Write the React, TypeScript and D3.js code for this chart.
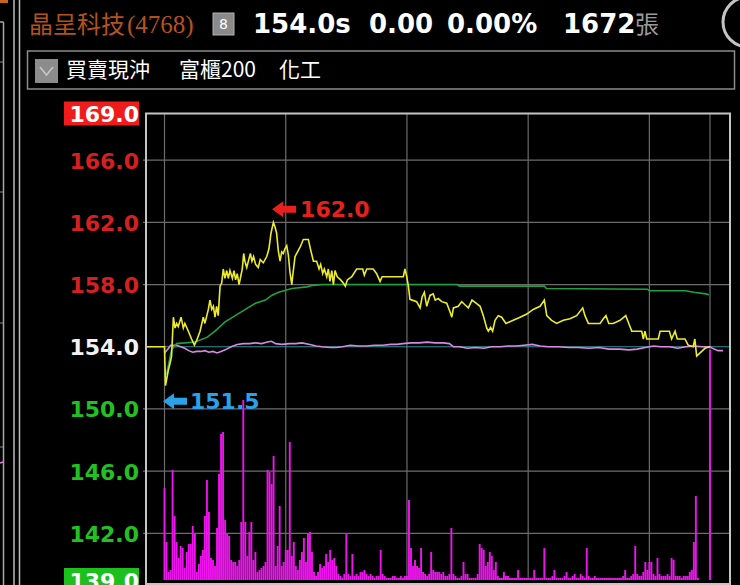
import React from "react";
import * as d3 from "d3";

const W = 740;
const H = 585;

const stockName = "晶呈科技";
const stockCode = "(4768)";
const badge = "8";
const quoteParts = ["154.0s", "0.00", "0.00%", "1672"];
const quoteUnit = "張";
const legendItems = ["買賣現沖", "富櫃200", "化工"];

const priceTicks = [169, 166, 162, 158, 154, 150, 146, 142, 139];
const refPrice = 154;
const timeGrid = [0, 60, 120, 180, 240, 270];
const highMark = { m: 54, p: 162.0, label: "162.0" };
const lowMark = { m: 0.5, p: 151.5, label: "151.5" };

// [minute since 09:00, price]
const pricePts: [number, number][] = [
  [-9.1, 154.0], [0, 154.0], [0.5, 151.5], [1.9, 152.5], [2.7, 152.9], [3.5, 153.4], [4.4, 155.9],
  [5.2, 155.2], [6.0, 155.5], [6.8, 155.3], [8.2, 155.9], [9.3, 155.2], [10.1, 155.5], [11.8, 155.0],
  [13.4, 154.5], [14.8, 154.1], [15.9, 154.4], [17.6, 155.0], [19.2, 155.9], [20.0, 155.5],
  [21.7, 156.4], [22.5, 157.0], [23.4, 156.4], [24.2, 156.6], [25.0, 155.9], [25.8, 156.6],
  [26.6, 156.0], [27.5, 157.9], [28.3, 158.1], [29.1, 159.0], [29.9, 158.4], [30.8, 158.9],
  [31.6, 158.4], [32.4, 158.9], [33.6, 158.4], [34.4, 158.9], [35.2, 158.3], [36.0, 158.7],
  [36.9, 158.0], [37.7, 158.5], [38.5, 159.0], [39.2, 160.0], [39.8, 159.5], [40.7, 159.1],
  [41.5, 159.5], [42.5, 160.0], [43.3, 159.5], [44.1, 159.8], [45.1, 159.3], [46.4, 159.1],
  [47.4, 159.6], [48.9, 159.4], [50.6, 159.8], [51.7, 160.3], [52.7, 161.3], [53.9, 162.0],
  [54.7, 161.7], [55.5, 161.3], [56.3, 160.2], [57.2, 159.5], [58.0, 160.1], [58.8, 160.0],
  [59.6, 160.3], [60.5, 160.5], [61.3, 159.9], [62.1, 158.8], [63.0, 158.0], [63.4, 158.5],
  [64.6, 159.8], [67.1, 160.4], [68.7, 160.9], [71.2, 160.9], [72.4, 160.2], [73.7, 159.5],
  [75.3, 159.5], [76.5, 159.0], [77.3, 159.3], [78.3, 158.7], [79.1, 159.0], [80.3, 158.5],
  [81.1, 159.0], [81.9, 158.2], [82.8, 158.9], [83.6, 158.0], [84.4, 158.9], [85.5, 158.5],
  [87.2, 158.3], [88.5, 158.1], [89.5, 157.9], [90.5, 158.3], [92.7, 158.5], [95.1, 159.0],
  [98.1, 159.0], [98.9, 158.6], [100.1, 159.0], [103.3, 159.0], [105.0, 158.7], [106.7, 158.2],
  [107.7, 158.5], [118.2, 158.5], [119.0, 159.0], [119.9, 158.5], [120.7, 157.9], [121.5, 157.05],
  [124.8, 156.9], [126.5, 156.5], [127.5, 157.2], [128.6, 157.5], [129.8, 156.6], [131.4, 157.3],
  [133.0, 157.4], [134.0, 157.0], [135.5, 157.1], [137.2, 156.9], [139.7, 156.8], [141.3, 156.25],
  [142.2, 155.9], [143.0, 156.5], [145.4, 156.6], [147.1, 156.9], [148.7, 156.7], [150.4, 156.5],
  [152.2, 157.0], [154.2, 156.8], [156.2, 156.6], [157.8, 156.0], [159.5, 155.2], [160.3, 155.0],
  [161.4, 155.25], [162.4, 155.0], [163.6, 155.7], [165.2, 156.0], [166.9, 155.9], [169.0, 155.5],
  [172.6, 155.7], [176.0, 155.9], [179.3, 156.1], [182.5, 156.4], [185.9, 156.6], [188.0, 157.0],
  [189.2, 156.0], [191.6, 155.7], [194.1, 155.5], [197.4, 155.7], [200.7, 155.8], [204.0, 156.0],
  [207.0, 156.5], [208.1, 156.0], [209.8, 155.5], [215.6, 155.5], [217.2, 155.8], [218.5, 156.0],
  [219.9, 155.5], [222.1, 155.5], [225.5, 155.7], [228.3, 156.0], [229.8, 155.5], [231.3, 155.0],
  [236.2, 155.0], [237.0, 154.5], [237.8, 155.0], [238.7, 154.5], [244.4, 154.5], [245.3, 155.0],
  [249.9, 155.0], [251.0, 154.5], [252.7, 155.0], [253.8, 154.5], [257.6, 154.5], [259.2, 154.1],
  [261.7, 154.0], [262.5, 154.5], [263.4, 153.4], [265.9, 153.7], [267.5, 153.9], [270.0, 154.0],
];

// average price line
const avgPts: [number, number][] = [
  [1, 152.2], [3.5, 153.8], [6, 154.2], [15, 154.3], [21, 154.6], [25, 155.0], [30, 155.6],
  [35, 156.0], [40, 156.4], [45, 156.8], [50, 157.0], [53, 157.3], [56.5, 157.5], [63, 157.75],
  [70.5, 157.85], [73.5, 157.95], [78, 158.0], [145, 158.0], [146, 157.9], [188, 157.9],
  [189, 157.75], [239, 157.7], [240, 157.6], [258, 157.6], [262, 157.5], [268, 157.4], [269.5, 157.35],
];

// index overlay line
const indexPts: [number, number][] = [
  [0, 153.6], [2, 153.9], [3, 154.1], [6, 154.1], [8, 154.0], [10, 153.9], [12, 153.75], [14, 153.65],
  [16, 153.7], [18, 153.7], [20, 153.75], [22, 153.65], [24, 153.7], [26, 153.6], [28, 153.7],
  [30, 153.8], [33, 154.0], [36, 154.15], [39, 154.2], [42, 154.2], [45, 154.25], [48, 154.2],
  [51, 154.3], [53, 154.35], [55, 154.2], [58, 154.15], [62, 154.2], [65, 154.2], [68, 154.25],
  [72, 154.15], [75, 154.05], [78, 154.0], [82, 153.95], [85, 153.95], [88, 154.0], [92, 154.1],
  [96, 154.05], [100, 154.05], [104, 154.1], [108, 154.1], [112, 154.15], [115, 154.15],
  [118, 154.2], [122, 154.25], [126, 154.25], [130, 154.3], [134, 154.25], [138, 154.25],
  [141, 154.2], [143, 154.0], [146, 154.0], [150, 153.9], [154, 153.95], [158, 153.9], [162, 154.0],
  [166, 154.0], [170, 154.05], [174, 154.05], [178, 154.1], [182, 154.15], [186, 154.05],
  [190, 154.0], [195, 154.0], [200, 153.95], [205, 153.95], [210, 153.9], [215, 153.95],
  [220, 153.85], [225, 153.85], [230, 153.8], [234, 153.85], [238, 153.95], [242, 154.05],
  [246, 154.0], [250, 154.0], [254, 153.9], [258, 154.0], [262, 154.05], [266, 154.0],
  [270, 154.0], [272, 153.85], [274, 153.75], [276.5, 153.75],
];

// volume per minute (index = minute since 09:00)
const volumes = [
  46, 19, 4, 5, 55, 32, 19, 11, 17, 16, 6, 14, 18, 18, 27, 23, 4, 8, 12, 15,
  32, 50, 34, 11, 10, 7, 26, 53, 73, 74, 30, 23, 22, 10, 9, 9, 7, 10, 29, 90,
  29, 12, 24, 29, 10, 14, 4, 5, 6, 7, 9, 55, 54, 48, 62, 7, 17, 37, 7, 9,
  15, 15, 69, 12, 19, 7, 5, 10, 14, 21, 9, 23, 24, 14, 4, 2, 4, 8, 6, 7,
  13, 9, 15, 10, 11, 7, 3, 2, 1, 3, 23, 3, 2, 13, 2, 3, 2, 4, 4, 5,
  3, 2, 3, 2, 1, 2, 2, 15, 3, 2, 1, 1, 1, 2, 2, 1, 1, 2, 1, 2,
  2, 40, 16, 7, 10, 7, 6, 16, 4, 3, 2, 3, 14, 5, 4, 4, 4, 3, 4, 2,
  2, 3, 26, 3, 2, 1, 1, 2, 9, 3, 3, 1, 1, 1, 1, 3, 18, 16, 15, 7,
  9, 14, 12, 5, 9, 2, 1, 1, 4, 2, 2, 1, 1, 1, 1, 5, 1, 1, 1, 1,
  1, 1, 1, 5, 1, 1, 1, 1, 16, 1, 1, 1, 2, 5, 1, 1, 1, 1, 2, 4,
  1, 1, 2, 3, 1, 1, 3, 2, 1, 16, 2, 1, 1, 2, 1, 1, 1, 1, 1, 1,
  1, 1, 1, 1, 1, 1, 1, 2, 5, 1, 1, 2, 3, 17, 3, 2, 2, 4, 9, 5,
  9, 9, 3, 2, 11, 3, 2, 2, 2, 3, 2, 11, 10, 2, 2, 2, 1, 2, 2, 2,
  4, 5, 19, 42, 1, 0, 0, 0, 0, 0, 115,
];

const PL = 146, PR = 730, PT = 113.5, PB = 580;

const xs = d3.scaleLinear().domain([-9.157, 279.9]).range([PL, PR]);
const ys = d3.scaleLinear().domain([139, 169]).range([PB, PT]);
const vs = d3.scaleLinear().domain([0, 120]).range([PB, PB - 240]);

const lineGen = d3
  .line<[number, number]>()
  .x((d) => xs(d[0]))
  .y((d) => ys(d[1]));

function labelColor(p: number) {
  if (p > refPrice) return "#d61f1f";
  if (p < refPrice) return "#22c022";
  return "#f2f2f2";
}

function arrowPath(x0: number, cy: number) {
  return `M${x0},${cy} L${x0 + 11},${cy - 8} L${x0 + 11},${cy - 3.5} L${x0 + 24},${cy - 3.5} L${x0 + 24},${cy + 3.5} L${x0 + 11},${cy + 3.5} L${x0 + 11},${cy + 8} Z`;
}

export default function App() {
  const numFont = "'DejaVu Sans', Verdana, sans-serif";
  const cjkFont = "'Noto Sans CJK TC', 'Noto Sans CJK SC', sans-serif";
  const hiX = xs(highMark.m) - 1.5;
  const hiY = ys(highMark.p) - 13;
  const loX = xs(lowMark.m) - 2.5;
  const loY = ys(lowMark.p) + 15.5;
  const quoteX = [253, 369, 447, 563];
  const legendX = [66, 179, 279];
  const barW = 1.9;

  return (
    <svg
      width={W}
      height={H}
      style={{ position: "fixed", left: 0, top: 0, display: "block", background: "#000" }}
    >
      <rect x={0} y={0} width={W} height={H} fill="#000" />

      {/* left neighbouring panel edges */}
      <rect x={0} y={0} width={8} height={3} fill="#c8641e" />
      <line x1={3.5} y1={22} x2={3.5} y2={H} stroke="#a8a8a8" strokeWidth={1.5} />
      <line x1={0} y1={22} x2={3.5} y2={22} stroke="#a8a8a8" strokeWidth={1.5} />
      {[62, 192, 323, 447].map((y) => (
        <line key={y} x1={0} y1={y} x2={3} y2={y} stroke="#888" strokeWidth={1} />
      ))}
      <line x1={0} y1={463} x2={3} y2={462} stroke="#e080e0" strokeWidth={1.5} />
      <line x1={14} y1={0} x2={14} y2={H} stroke="#bdbdbd" strokeWidth={1.5} />
      <line x1={19.5} y1={0} x2={19.5} y2={H} stroke="#bdbdbd" strokeWidth={1.5} />

      {/* top-right circle fragment */}
      <circle cx={748} cy={22} r={25} fill="none" stroke="#c4c4c4" strokeWidth={3} />

      {/* header */}
      <text x={29} y={33} fontFamily={cjkFont} fontSize={24} fill="#b4521e">
        {stockName}
      </text>
      <text x={127} y={33} fontFamily="'Liberation Serif', serif" fontSize={25} fill="#b4521e">
        {stockCode}
      </text>
      <rect x={213} y={13} width={21} height={22} fill="#8a8a8a" stroke="#b0b0b0" strokeWidth={1} />
      <text x={223.5} y={29} textAnchor="middle" fontFamily={numFont} fontSize={14} fill="#fff">
        {badge}
      </text>
      {quoteParts.map((t, i) => (
        <text key={t + i} x={quoteX[i]} y={33} fontFamily={numFont} fontWeight="bold" fontSize={26} fill="#fff">
          {t}
        </text>
      ))}
      <text x={635} y={33} fontFamily={cjkFont} fontSize={24} fill="#9a9a9a">
        {quoteUnit}
      </text>

      {/* legend bar */}
      <rect x={27.5} y={51} width={707} height={38} fill="none" stroke="#8a8a8a" strokeWidth={1.5} />
      <rect x={35} y={59} width={23} height={24} fill="#8c8c8c" />
      <path d="M40,67 L46.5,75 L53,67" fill="none" stroke="#c8c8c8" strokeWidth={1.5} />
      {legendItems.map((t, i) => (
        <text key={t} x={legendX[i]} y={77} fontFamily={cjkFont} fontSize={21} fill="#fff">
          {t}
        </text>
      ))}

      {/* grid */}
      {priceTicks
        .filter((p) => p !== 169 && p !== 139 && p !== refPrice)
        .map((p) => (
          <line key={p} x1={PL - 3} x2={PR} y1={ys(p)} y2={ys(p)} stroke="#6c6c6c" strokeWidth={1.2} />
        ))}
      {timeGrid.map((m) => (
        <line key={m} x1={xs(m)} x2={xs(m)} y1={PT} y2={PB} stroke="#6c6c6c" strokeWidth={1.2} />
      ))}

      {/* volume bars */}
      {volumes.map((v, i) =>
        v > 0 ? (
          <rect key={i} x={xs(i) - barW / 2} y={vs(v)} width={barW} height={PB - vs(v)} fill="#ee14ee" />
        ) : null
      )}

      {/* reference line */}
      <line x1={PL} x2={PR} y1={ys(refPrice)} y2={ys(refPrice)} stroke="#2f8f9a" strokeWidth={1.2} />

      {/* lines */}
      <path d={lineGen(indexPts) || ""} fill="none" stroke="#d58ae0" strokeWidth={1.6} />
      <path d={lineGen(avgPts) || ""} fill="none" stroke="#22a040" strokeWidth={1.6} />
      <path d={lineGen(pricePts) || ""} fill="none" stroke="#ecec2c" strokeWidth={1.6} />

      {/* border */}
      <rect x={PL} y={PT} width={PR - PL} height={PB - PT + 4} fill="none" stroke="#c4c4c4" strokeWidth={2} />

      {/* high / low markers */}
      <path d={arrowPath(hiX, hiY)} fill="#e8201c" />
      <text x={hiX + 28} y={hiY + 8} fontFamily={numFont} fontWeight="bold" fontSize={22} fill="#e8201c">
        {highMark.label}
      </text>
      <path d={arrowPath(loX, loY)} fill="#2aa2e8" />
      <text x={loX + 27} y={loY + 8} fontFamily={numFont} fontWeight="bold" fontSize={22} fill="#2aa2e8">
        {lowMark.label}
      </text>

      {/* y axis labels */}
      <rect x={64} y={ys(169) - 12} width={75} height={24} fill="#f01c1c" />
      <rect x={64} y={ys(139) - 12} width={75} height={24} fill="#1cc01c" />
      {priceTicks.map((p) => (
        <text
          key={p}
          x={139}
          y={ys(p) + 8.5}
          textAnchor="end"
          fontFamily={numFont}
          fontWeight="bold"
          fontSize={22}
          fill={p === 169 || p === 139 ? "#ffffff" : labelColor(p)}
        >
          {p.toFixed(1)}
        </text>
      ))}
    </svg>
  );
}
